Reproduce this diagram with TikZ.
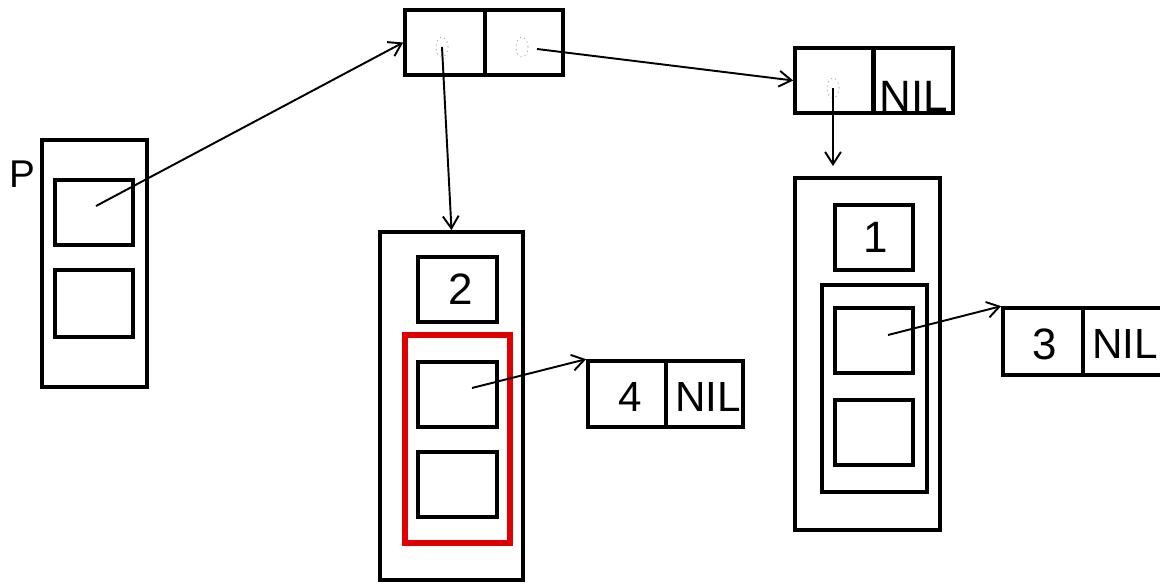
\documentclass[tikz,border=0pt]{standalone}
\usepackage{fontspec}
\setmainfont{Liberation Sans}
\usetikzlibrary{arrows.meta,shapes.geometric}
\definecolor{boxred}{RGB}{225,0,0}
\tikzset{
  wh/.style 2 args={minimum width={#1*0.02cm}, minimum height={#2*0.02cm}},
  cellbox/.style={draw=black, line width=2.1pt, inner sep=0pt},
  redbox/.style={draw=boxred, line width=3pt, inner sep=0pt},
  ptr/.style={draw=black, line width=1.1pt, -{Straight Barb[length=7pt,width=9pt,line width=1.1pt]}},
  dot/.style={ellipse, draw=gray!60, dotted, line width=0.6pt, inner sep=0pt, minimum width={12*0.02cm}, minimum height={20*0.02cm}},
  txt/.style={inner sep=0pt, font=\fontsize{#1}{#1}\selectfont}
}
\begin{document}
\begin{tikzpicture}[x=0.02cm,y=-0.02cm]
\useasboundingbox (0,0) rectangle (1160,584);
\clip (0,0) rectangle (1160,584);
\fill[white] (0,0) rectangle (1160,584);

% P block
\node[txt=22pt] (plabel) at (22.5,174) {P};
\node[cellbox, wh={105}{247}] (pout) at (94.5,263.5) {};
\node[cellbox, wh={78}{65}] (pa) at (94,212.5) {};
\node[cellbox, wh={78}{67}] (pb) at (94,303.5) {};
\coordinate (pstart) at (96,206);

% top cons cell
\node[cellbox, wh={80}{65}] (tl) at (445,42.5) {};
\node[cellbox, wh={78}{65}] (tr) at (524,42.5) {};
\node[dot] (tldot) at (442,47) {};
\node[dot] (trdot) at (522,47) {};
\coordinate (trstart) at (537,49);

% cell B
\node[cellbox, wh={78}{65}] (bl) at (834,80.5) {};
\node[cellbox, wh={79}{65}] (br) at (913.5,80.5) {};
\node[dot] (bldot) at (833,88) {};
\node[txt=25pt, anchor=base] (bnil) at (914,112) {NIL};
\coordinate (bend) at (833,166);

% block 2
\node[cellbox, wh={143}{348}] (two) at (451.5,406) {};
\node[cellbox, wh={79}{65}] (twoval) at (457.5,289.5) {};
\node[txt=25pt] (twotext) at (461,289) {2};
\node[redbox, wh={105}{208}] (twored) at (457.5,439) {};
\node[cellbox, wh={79}{65}] (twoa) at (457.5,394.5) {};
\node[cellbox, wh={79}{65}] (twob) at (457.5,484.5) {};
\coordinate (twostart) at (472,388);

% cell 4 NIL
\node[cellbox, wh={78}{66}] (fl) at (627,394) {};
\node[cellbox, wh={77}{66}] (fr) at (704.5,394) {};
\node[txt=24pt] (fval) at (630,397) {4};
\node[txt=24pt] (fnil) at (708,397) {NIL};

% block 1
\node[cellbox, wh={145}{352}] (one) at (867.5,354) {};
\node[cellbox, wh={78}{65}] (oneval) at (874,237.5) {};
\node[txt=25pt] (onetext) at (876,237) {1};
\node[cellbox, wh={105}{207}] (onemid) at (874.5,388.5) {};
\node[cellbox, wh={78}{65}] (onea) at (874,340.5) {};
\node[cellbox, wh={78}{65}] (oneb) at (874,432.5) {};
\coordinate (onestart) at (888,335);

% cell 3 NIL
\node[cellbox, wh={80}{67}] (tl3) at (1043,341.5) {};
\node[cellbox, wh={80}{67}] (tr3) at (1123,341.5) {};
\node[txt=25pt] (tval) at (1045,344) {3};
\node[txt=24pt, anchor=east] (tnil) at (1158,344) {NIL};

% pointers
\draw[ptr] (pstart) -- (tl.west);
\draw[ptr] (tldot.center) -- (two.north);
\draw[ptr] (trstart) -- (bl.west);
\draw[ptr] (bldot.center) -- (bend);
\draw[ptr] (twostart) -- (fl.north west);
\draw[ptr] (onestart) -- (tl3.north west);
\end{tikzpicture}
\end{document}
